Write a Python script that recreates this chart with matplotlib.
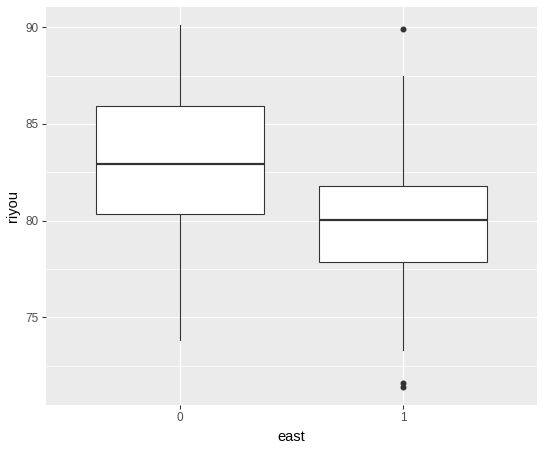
import matplotlib.pyplot as plt
import numpy as np
from matplotlib.ticker import MultipleLocator

OUTPUT_PATH = "out.png"

# values
groups = ["0", "1"]
whisker_low = [73.82, 73.31]
q1 = [80.34, 77.84]
median = [82.94, 80.05]
q3 = [85.91, 81.77]
whisker_high = [90.12, 87.50]
outliers = [[], [89.90, 71.60, 71.38]]

plt.rcParams["font.family"] = ["Liberation Sans", "DejaVu Sans"]

pt = 72 / 100  # one pixel at dpi 100, in points

fig = plt.figure(figsize=(5.45, 4.5), dpi=100)
ax = fig.add_axes([46 / 545, 1 - 405 / 450, (537 - 46) / 545, (405 - 7) / 450])
ax.set_facecolor("#EBEBEB")

stats = []
for i, g in enumerate(groups):
    stats.append({
        "label": g,
        "whislo": whisker_low[i],
        "q1": q1[i],
        "med": median[i],
        "q3": q3[i],
        "whishi": whisker_high[i],
        "fliers": outliers[i],
    })

line_c = "#333333"
lw = 1.1 * pt
ax.bxp(
    stats,
    positions=np.arange(len(groups)),
    widths=0.75,
    patch_artist=True,
    showcaps=False,
    boxprops=dict(facecolor="white", edgecolor=line_c, linewidth=lw),
    medianprops=dict(color=line_c, linewidth=2 * lw),
    whiskerprops=dict(color=line_c, linewidth=lw),
    flierprops=dict(marker="o", markersize=3.3, markerfacecolor=line_c,
                    markeredgecolor=line_c, linestyle="none"),
    zorder=3,
)

ax.set_xlim(-0.6, 1.6)
ax.set_ylim(70.46, 91.05)
ax.set_xticks(np.arange(len(groups)))
ax.set_xticklabels(groups)
ax.yaxis.set_minor_locator(MultipleLocator(2.5))
ax.set_yticks([75, 80, 85, 90])

ax.grid(which="major", color="white", linewidth=1.3 * pt, zorder=0)
ax.grid(which="minor", axis="y", color="white", linewidth=0.7 * pt, zorder=0)
ax.set_axisbelow(True)
for s in ax.spines.values():
    s.set_visible(False)

ax.tick_params(axis="both", which="major", length=3.7 * pt, width=1.1 * pt,
               color=line_c, labelcolor="#4D4D4D", labelsize=8.5, pad=2.5)
ax.tick_params(axis="y", which="minor", length=0)

ax.set_xlabel("east", fontsize=10.5, color="black", labelpad=4)
ax.set_ylabel("riyou", fontsize=10.5, color="black", labelpad=4)

fig.savefig(OUTPUT_PATH, dpi=100, facecolor="white")
